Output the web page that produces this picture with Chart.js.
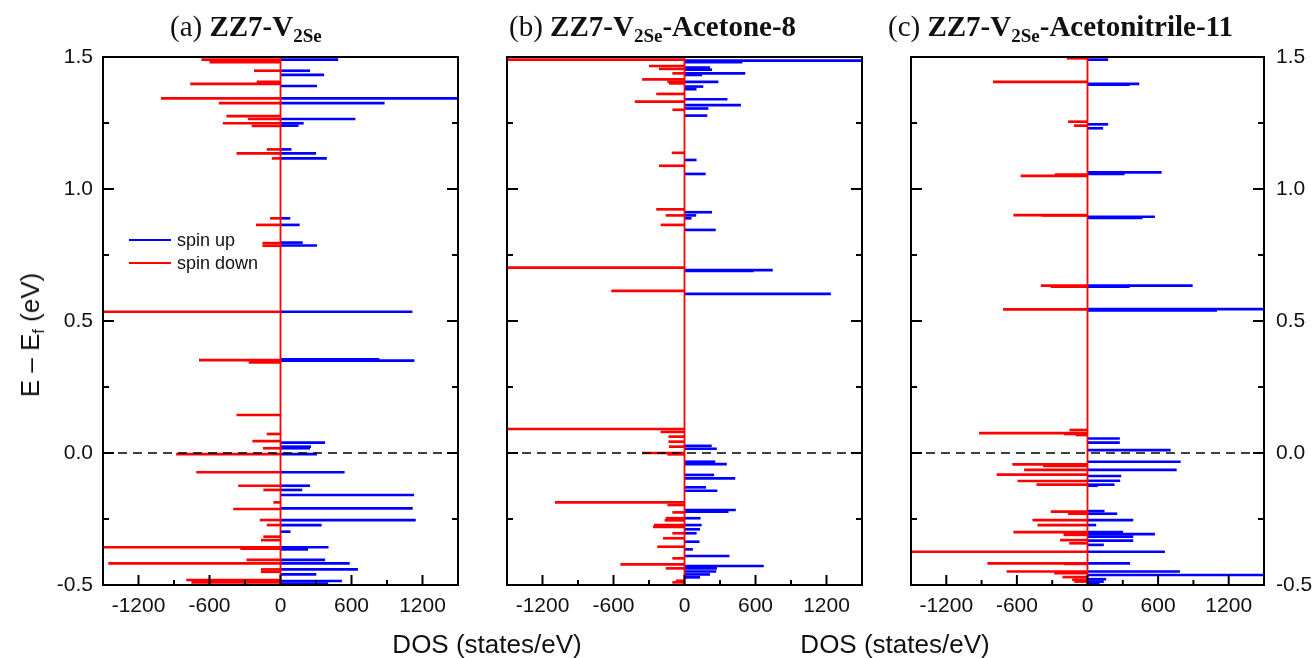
<!DOCTYPE html>
<html>
<head>
<meta charset="utf-8">
<script src="https://cdn.jsdelivr.net/npm/chart.js@4.4.0/dist/chart.umd.min.js"></script>
<style>
  body { margin: 0; background: #fff; width: 1316px; height: 658px; position: relative; overflow: hidden;
         font-family: "Liberation Sans", Arial, sans-serif; color: #111; }
  .panel { position: absolute; top: 0; height: 658px; }
  .title { position: absolute; top: 12px; font-family: "Liberation Serif", "Times New Roman", serif;
           font-size: 29px; line-height: 29px; white-space: nowrap; }
  .title sub { font-size: 19px; line-height: 0; vertical-align: -6px; }
  .xtitle { position: absolute; top: 631px; font-size: 26px; line-height: 26px; white-space: nowrap;
            transform: translateX(-50%); }
  .ytitle { position: absolute; left: 30px; top: 335px; font-size: 26px; line-height: 26px; white-space: nowrap;
            transform: translate(-50%, -50%) rotate(-90deg); }
  .ytitle sub { font-size: 16px; line-height: 0; vertical-align: -5px; }
  .legend { position: absolute; left: 129px; font-size: 18px; line-height: 18px; display: flex; align-items: center; }
  .legend i { display: inline-block; width: 42px; height: 2px; margin-right: 6px; }
</style>
</head>
<body>

<div class="panel" style="left:0;width:470px"><canvas id="chartA"></canvas></div>
<div class="panel" style="left:470px;width:400px"><canvas id="chartB"></canvas></div>
<div class="panel" style="left:870px;width:446px"><canvas id="chartC"></canvas></div>

<div class="title" style="left:170px">(a) <b>ZZ7-V<sub>2Se</sub></b></div>
<div class="title" style="left:509px">(b) <b>ZZ7-V<sub>2Se</sub>-Acetone-8</b></div>
<div class="title" style="left:888px">(c) <b>ZZ7-V<sub>2Se</sub>-Acetonitrile-11</b></div>

<div class="ytitle">E – E<sub>f</sub> (eV)</div>
<div class="xtitle" style="left:487px">DOS (states/eV)</div>
<div class="xtitle" style="left:895px">DOS (states/eV)</div>

<div class="legend" style="top:231px"><i style="background:#0000ff"></i>spin up</div>
<div class="legend" style="top:254px"><i style="background:#ff0000"></i>spin down</div>

<script>
'use strict';
/* ============================================================
   Spin-resolved DOS, three panels (ZZ7-V2Se variants)
   ============================================================ */

const BLUE = '#0000ff';
const RED  = '#ff0000';

// ── Axes ────────────────────────────────────────────────────
const dosRange    = [-1500, 1500];
const energyRange = [-0.5, 1.5];
const xTickVals   = [-1200, -600, 0, 600, 1200];
const yTickVals   = [-0.5, 0, 0.5, 1, 1.5];
const fermiLevel  = 0;

// ── (a) ZZ7-V2Se ────────────────────────────────────────────
const aUpE = [1.49, 1.448, 1.432, 1.39, 1.343, 1.325, 1.265, 1.249, 1.24, 1.15, 1.135, 1.116, 0.889, 0.864, 0.797,
  0.786, 0.535, 0.355, 0.35, 0.039, 0.024, 0.018, -0.004, -0.073, -0.124, -0.14, -0.159, -0.21, -0.254, -0.273,
  -0.298, -0.357, -0.365, -0.405, -0.418, -0.441, -0.46, -0.485, -0.495];
const aUpV = [485, 247, 366, 306, 1600, 877, 630, 193, 150, 90, 298, 389, 80, 159, 185,
  306, 1112, 832, 1129, 374, 255, 247, 306, 539, 247, 181, 1126, 1115, 1140, 345,
  82, 403, 230, 374, 582, 652, 300, 516, 400];
const aDnE = [1.49, 1.48, 1.448, 1.406, 1.398, 1.343, 1.325, 1.276, 1.265, 1.249, 1.239, 1.15, 1.135, 1.116, 0.889,
  0.864, 0.795, 0.785, 0.535, 0.352, 0.343, 0.144, 0.072, 0.045, 0.018, -0.004, -0.073, -0.124, -0.14, -0.187,
  -0.212, -0.254, -0.273, -0.317, -0.33, -0.357, -0.362, -0.405, -0.418, -0.441, -0.45, -0.481, -0.49];
const aDnV = [-666, -596, -221, -198, -760, -1007, -519, -454, -272, -485, -241, -113, -369, -71, -85,
  -204, -150, -150, -1600, -686, -266, -369, -113, -235, -145, -879, -709, -355, -142, -57,
  -397, -172, -113, -142, -162, -1600, -337, -284, -1452, -162, -162, -794, -750];

// ── (b) ZZ7-V2Se-Acetone-8 ──────────────────────────────────
const bUpE = [1.486, 1.48, 1.46, 1.452, 1.438, 1.432, 1.406, 1.388, 1.378, 1.34, 1.318, 1.305, 1.278, 1.11, 1.057,
  0.912, 0.9, 0.889, 0.845, 0.693, 0.69, 0.603, 0.027, 0.016, -0.033, -0.042, -0.083, -0.096, -0.13, -0.143,
  -0.216, -0.222, -0.247, -0.273, -0.289, -0.304, -0.336, -0.365, -0.39, -0.428, -0.437, -0.449, -0.46, -0.471];
const bUpV = [1600, 486, 213, 230, 511, 145, 284, 156, 99, 360, 474, 199, 190, 99, 176,
  230, 96, 57, 261, 743, 581, 1234, 227, 270, 257, 355, 248, 426, 179, 275,
  431, 369, 133, 142, 128, 100, 124, 68, 377, 667, 271, 265, 213, 128];
const bDnE = [1.49, 1.466, 1.455, 1.438, 1.415, 1.406, 1.4, 1.36, 1.331, 1.3, 1.137, 1.088, 0.923, 0.9, 0.864,
  0.702, 0.614, 0.091, 0.08, 0.062, 0.043, 0.024, 0.0, -0.005, -0.187, -0.197, -0.225, -0.247, -0.255, -0.273,
  -0.28, -0.304, -0.323, -0.355, -0.399, -0.422, -0.437, -0.484, -0.49];
const bDnV = [-1600, -298, -213, -100, -355, -142, -128, -236, -417, -99, -105, -213, -236, -156, -199,
  -1600, -616, -1600, -199, -133, -133, -128, -355, -142, -1092, -142, -100, -156, -165, -255,
  -264, -100, -179, -227, -100, -539, -156, -71, -100];

// ── (c) ZZ7-V2Se-Acetonitrile-11 ────────────────────────────
const cUpE = [1.49, 1.398, 1.395, 1.245, 1.23, 1.063, 1.057, 0.895, 0.89, 0.634, 0.63, 0.545, 0.54, 0.055, 0.039,
  0.011, -0.033, -0.064, -0.087, -0.105, -0.12, -0.124, -0.22, -0.23, -0.254, -0.273, -0.3, -0.307, -0.317, -0.332,
  -0.348, -0.374, -0.418, -0.449, -0.462, -0.478, -0.487, -0.495];
const cUpV = [173, 437, 356, 173, 130, 627, 312, 570, 465, 891, 356, 1600, 1098, 272, 272,
  704, 789, 755, 284, 275, 227, 85, 142, 250, 386, 71, 300, 570, 386, 386,
  136, 655, 359, 783, 1600, 156, 136, 100];
const cDnE = [1.495, 1.406, 1.255, 1.24, 1.055, 1.05, 0.901, 0.9, 0.634, 0.63, 0.544, 0.087, 0.075, 0.072, 0.068,
  -0.043, -0.049, -0.064, -0.082, -0.106, -0.12, -0.222, -0.23, -0.254, -0.273, -0.3, -0.305, -0.31, -0.33, -0.342,
  -0.374, -0.418, -0.42, -0.449, -0.455, -0.47, -0.48, -0.487];
const cDnV = [-173, -800, -162, -113, -275, -565, -627, -386, -394, -309, -715, -150, -919, -198, -96,
  -636, -374, -536, -769, -592, -431, -309, -162, -465, -422, -627, -200, -200, -230, -153,
  -1600, -848, -196, -684, -280, -210, -128, -110];

Chart.defaults.font.family = '"Liberation Sans", Arial, sans-serif';
Chart.defaults.color = '#111';

const peaks = (E, V) => E.map((e, i) => ({ x: V[i], y: e }));

// frame, inward ticks, spin-down baseline and Fermi level
const framePlugin = {
  id: 'frame',
  afterDatasetsDraw(chart) {
    const { ctx, chartArea: a, scales: { x, y } } = chart;
    const seg = (x1, y1, x2, y2) => { ctx.beginPath(); ctx.moveTo(x1, y1); ctx.lineTo(x2, y2); ctx.stroke(); };
    ctx.save();

    ctx.strokeStyle = RED; ctx.lineWidth = 1.8;
    const x0 = x.getPixelForValue(0);
    seg(x0, a.top, x0, a.bottom);

    ctx.strokeStyle = '#000'; ctx.lineWidth = 1.5; ctx.setLineDash([9, 6]);
    const yf = y.getPixelForValue(fermiLevel);
    seg(a.left, yf, a.right, yf);
    ctx.setLineDash([]);

    ctx.lineWidth = 2;
    ctx.strokeRect(a.left, a.top, a.width, a.height);
    for (let k = -4; k <= 4; k++) {
      const px = x.getPixelForValue(k * 300);
      seg(px, a.bottom, px, a.bottom - (k % 2 === 0 ? 10 : 5));
    }
    for (let k = -1; k <= 5; k++) {
      const py = y.getPixelForValue(k * 0.25);
      const len = k % 2 === 0 ? 11 : 6;
      seg(a.left, py, a.left + len, py);
      seg(a.right, py, a.right - len, py);
    }
    ctx.restore();
  }
};

function makeDos(id, up, down, opt) {
  return new Chart(document.getElementById(id), {
    type: 'bar',
    data: {
      datasets: [
        { label: 'spin down', data: down, backgroundColor: RED,  order: 0 },
        { label: 'spin up',   data: up,   backgroundColor: BLUE, order: 1 }
      ]
    },
    options: {
      indexAxis: 'y',
      animation: false,
      responsive: true,
      maintainAspectRatio: false,
      layout: { padding: { top: 57, left: opt.padLeft, right: opt.padRight, bottom: 0 } },
      datasets: { bar: { barThickness: 2, grouped: false, borderWidth: 0, clip: 0 } },
      scales: {
        x: {
          type: 'linear', min: dosRange[0], max: dosRange[1],
          grid: { display: false, drawTicks: false }, border: { display: false },
          afterBuildTicks: s => { s.ticks = xTickVals.map(v => ({ value: v })); },
          afterFit: s => { s.height = 73; },
          ticks: { padding: 9, font: { size: 21 }, callback: v => String(v) }
        },
        y: {
          type: 'linear', min: energyRange[0], max: energyRange[1], offset: false,
          position: opt.yPos, display: opt.yLabels ? true : false,
          grid: { display: false, drawTicks: false, offset: false }, border: { display: false },
          afterBuildTicks: s => { s.ticks = yTickVals.map(v => ({ value: v })); },
          afterFit: s => { s.width = opt.yWidth; },
          ticks: { padding: opt.yPad, font: { size: 21 }, callback: v => v.toFixed(1) }
        }
      },
      plugins: { legend: { display: false }, tooltip: { enabled: false } }
    },
    plugins: [framePlugin]
  });
}

makeDos('chartA', peaks(aUpE, aUpV), peaks(aDnE, aDnV),
  { padLeft: 0, padRight: 12, yPos: 'left', yLabels: true, yWidth: 103, yPad: 10 });
makeDos('chartB', peaks(bUpE, bUpV), peaks(bDnE, bDnV),
  { padLeft: 37, padRight: 8, yPos: 'left', yLabels: false, yWidth: 0, yPad: 0 });
makeDos('chartC', peaks(cUpE, cUpV), peaks(cDnE, cDnV),
  { padLeft: 41, padRight: 0, yPos: 'right', yLabels: true, yWidth: 52, yPad: 12 });
</script>
</body>
</html>
